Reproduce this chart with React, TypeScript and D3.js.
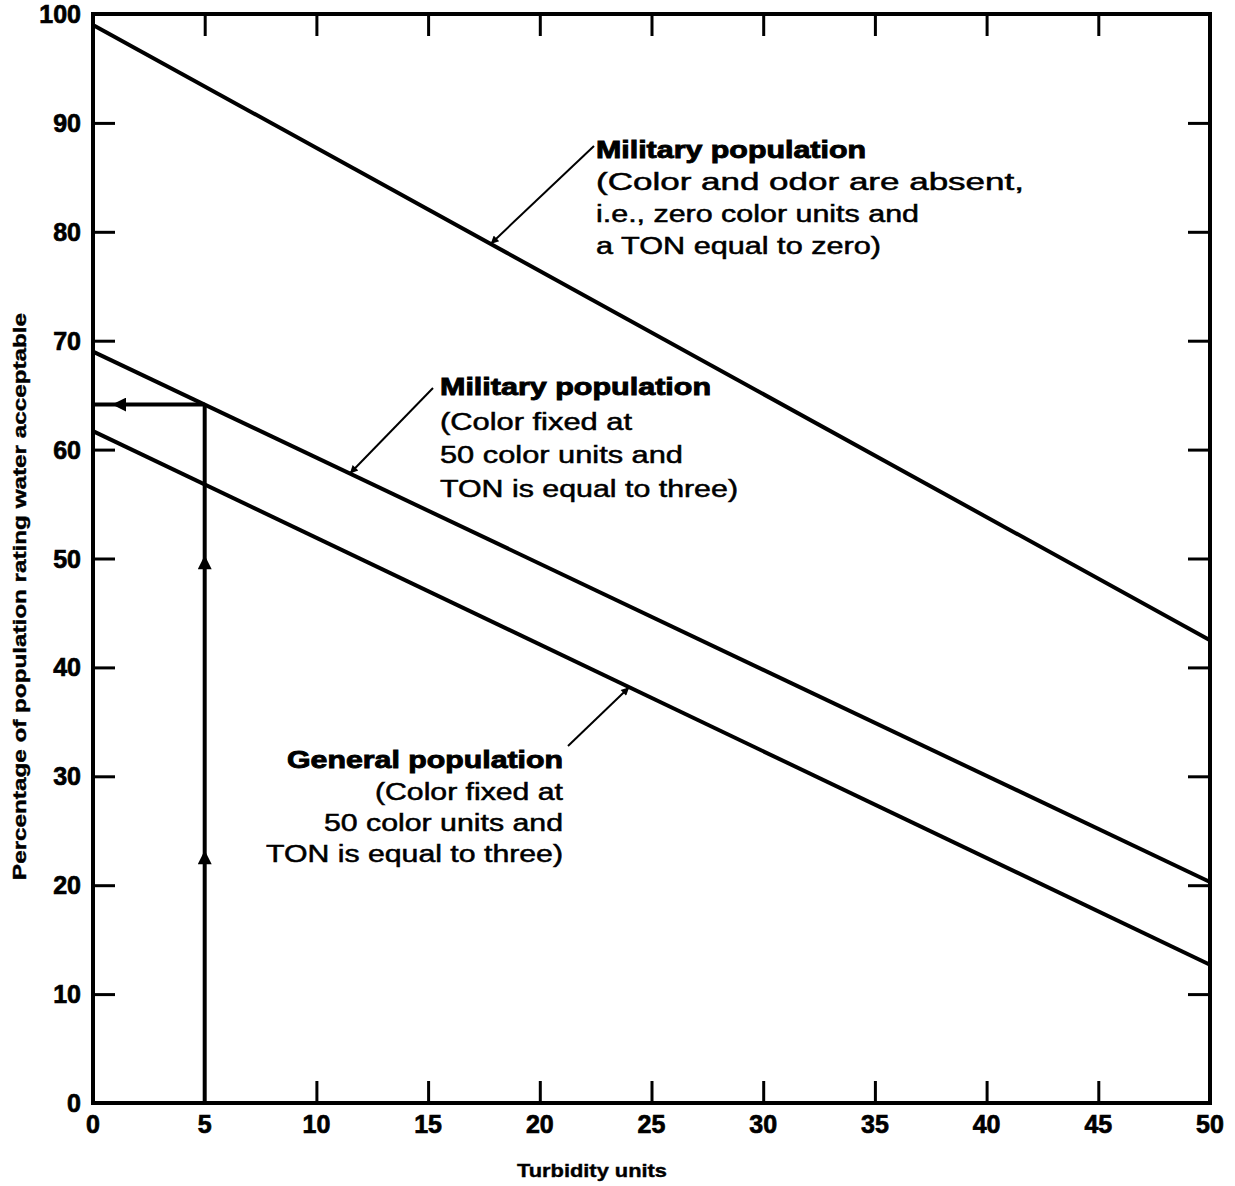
import React, { useEffect, useRef } from 'react';
import * as d3 from 'd3';

// turbidity (x) vs percentage rating water acceptable (y), straight lines read at both ends
const turbidity = [0, 50];
const militaryAbsent = [99, 42.5];
const militaryFixed = [69, 20.3];
const generalPop = [61.7, 12.7];

const xTicks = [0, 5, 10, 15, 20, 25, 30, 35, 40, 45, 50];
const yTicks = [0, 10, 20, 30, 40, 50, 60, 70, 80, 90, 100];

const readoutX = 5;
const upArrowsAt = [23.2, 50.3];
const leftArrowAt = 0.85;

// annotation blocks
const labelA = ['Military population', '(Color and odor are absent,', 'i.e., zero color units and', 'a TON equal to zero)'];
const labelB = ['Military population', '(Color fixed at', '50 color units and', 'TON is equal to three)'];
const labelC = ['General population', '(Color fixed at', '50 color units and', 'TON is equal to three)'];

const W = 1235;
const H = 1186;
const FONT = '"Liberation Sans", Arial, Helvetica, sans-serif';

export default function App() {
  const ref = useRef<SVGSVGElement>(null);

  useEffect(() => {
    const svg = d3.select(ref.current);
    svg.selectAll('*').remove();

    const x = d3.scaleLinear().domain([0, 50]).range([93, 1210]);
    const y = d3.scaleLinear().domain([0, 100]).range([1103, 14]);

    const lineAt = (vals: number[], t: number) =>
      vals[0] + ((vals[1] - vals[0]) * (t - turbidity[0])) / (turbidity[1] - turbidity[0]);

    const defs = svg.append('defs');
    const marker = (id: string, w: number, h: number) =>
      defs.append('marker')
        .attr('id', id)
        .attr('viewBox', '0 0 10 10')
        .attr('refX', 10).attr('refY', 5)
        .attr('markerWidth', w).attr('markerHeight', h)
        .attr('markerUnits', 'userSpaceOnUse')
        .attr('orient', 'auto')
        .append('path').attr('d', 'M0,0 L10,5 L0,10 Z').attr('fill', '#000');
    marker('head', 14, 8);
    marker('bighead', 16, 14);

    // frame ticks (inside) via d3 axes
    const tickLen = 22;
    const tickStyle = (g: any) => {
      g.select('.domain').remove();
      g.selectAll('text').remove();
      g.selectAll('line').attr('stroke', '#000').attr('stroke-width', 3);
    };
    const inner = (arr: number[], lo: number, hi: number) => arr.filter(v => v > lo && v < hi);

    svg.append('g').attr('transform', `translate(0,${y(0)})`)
      .call(d3.axisTop(x).tickValues(inner(xTicks, 5, 50)).tickSize(tickLen)).call(tickStyle);
    svg.append('g').attr('transform', `translate(0,${y(100)})`)
      .call(d3.axisBottom(x).tickValues(inner(xTicks, 0, 50)).tickSize(tickLen)).call(tickStyle);
    svg.append('g').attr('transform', `translate(${x(0)},0)`)
      .call(d3.axisRight(y).tickValues(inner(yTicks, 0, 100)).tickSize(tickLen)).call(tickStyle);
    svg.append('g').attr('transform', `translate(${x(50)},0)`)
      .call(d3.axisLeft(y).tickValues(inner(yTicks, 0, 100)).tickSize(tickLen)).call(tickStyle);

    // frame
    svg.append('rect')
      .attr('x', x(0)).attr('y', y(100))
      .attr('width', x(50) - x(0)).attr('height', y(0) - y(100))
      .attr('fill', 'none').attr('stroke', '#000').attr('stroke-width', 4);

    // tick labels
    svg.append('g').selectAll('text').data(xTicks).join('text')
      .attr('x', d => x(d)).attr('y', 1133)
      .attr('text-anchor', 'middle')
      .attr('font-family', FONT).attr('font-weight', 'bold').attr('font-size', 25)
      .attr('stroke', '#000').attr('stroke-width', 0.7)
      .text(d => d);
    svg.append('g').selectAll('text').data(yTicks).join('text')
      .attr('x', 81).attr('y', d => y(d) + 9)
      .attr('text-anchor', 'end')
      .attr('font-family', FONT).attr('font-weight', 'bold').attr('font-size', 25)
      .attr('stroke', '#000').attr('stroke-width', 0.7)
      .text(d => d);

    // axis titles
    svg.append('text')
      .attr('x', 517).attr('y', 1177)
      .attr('font-family', FONT).attr('font-weight', 'bold').attr('font-size', 19)
      .attr('textLength', 150).attr('lengthAdjust', 'spacingAndGlyphs')
      .attr('stroke', '#000').attr('stroke-width', 0.4)
      .text('Turbidity units');
    svg.append('text')
      .attr('transform', 'translate(26,880) rotate(-90)')
      .attr('font-family', FONT).attr('font-weight', 'bold').attr('font-size', 18)
      .attr('textLength', 567).attr('lengthAdjust', 'spacingAndGlyphs')
      .attr('stroke', '#000').attr('stroke-width', 0.4)
      .text('Percentage of population rating water acceptable');

    // data lines
    const line = d3.line<number>().x((_, i) => x(turbidity[i])).y(d => y(d));
    [militaryAbsent, militaryFixed, generalPop].forEach(vals => {
      svg.append('path').datum(vals)
        .attr('d', line)
        .attr('fill', 'none').attr('stroke', '#000').attr('stroke-width', 4);
    });

    // read-out arrows at turbidity 5
    const hit = lineAt(militaryFixed, readoutX);
    svg.append('line')
      .attr('x1', x(readoutX)).attr('y1', y(0))
      .attr('x2', x(readoutX)).attr('y2', y(hit))
      .attr('stroke', '#000').attr('stroke-width', 4);
    upArrowsAt.forEach(v => {
      svg.append('line')
        .attr('x1', x(readoutX)).attr('y1', y(v) + 20)
        .attr('x2', x(readoutX)).attr('y2', y(v))
        .attr('stroke', '#000').attr('stroke-width', 1)
        .attr('marker-end', 'url(#bighead)');
    });
    svg.append('line')
      .attr('x1', x(readoutX)).attr('y1', y(hit))
      .attr('x2', x(0)).attr('y2', y(hit))
      .attr('stroke', '#000').attr('stroke-width', 4);
    svg.append('line')
      .attr('x1', x(leftArrowAt) + 20).attr('y1', y(hit))
      .attr('x2', x(leftArrowAt)).attr('y2', y(hit))
      .attr('stroke', '#000').attr('stroke-width', 1)
      .attr('marker-end', 'url(#bighead)');

    // annotations
    const block = (
      lines: string[], widths: number[], tx: number, baselines: number[], anchor: string,
      leaderFrom: [number, number], curve: number[], at: number
    ) => {
      const g = svg.append('g');
      lines.forEach((s, i) => {
        g.append('text')
          .attr('x', anchor === 'end' ? tx - widths[i] : tx)
          .attr('y', baselines[i])
          .attr('font-family', FONT)
          .attr('font-weight', i === 0 ? 'bold' : 'normal')
          .attr('font-size', i === 0 ? 24 : 23)
          .attr('stroke', '#000').attr('stroke-width', i === 0 ? 0.9 : 0.5)
          .attr('textLength', widths[i]).attr('lengthAdjust', 'spacingAndGlyphs')
          .text(s);
      });
      const px = x(at);
      const py = y(lineAt(curve, at));
      g.append('line')
        .attr('x1', leaderFrom[0]).attr('y1', leaderFrom[1])
        .attr('x2', px).attr('y2', py)
        .attr('stroke', '#000').attr('stroke-width', 2)
        .attr('marker-end', 'url(#head)');
    };

    block(labelA, [270, 428, 323, 285], 596, [158, 190, 222, 254], 'start', [594, 146], militaryAbsent, 17.8);
    block(labelB, [271, 192, 243, 298], 440, [395, 430, 463, 497], 'start', [433, 388], militaryFixed, 11.5);
    block(labelC, [276, 188, 239, 297], 563, [768, 800, 831, 862], 'end', [568, 746], generalPop, 24.0);
  }, []);

  return (
    <svg ref={ref} width={W} height={H} style={{ display: 'block', position: 'absolute', left: 0, top: 0, background: '#fff' }} />
  );
}
